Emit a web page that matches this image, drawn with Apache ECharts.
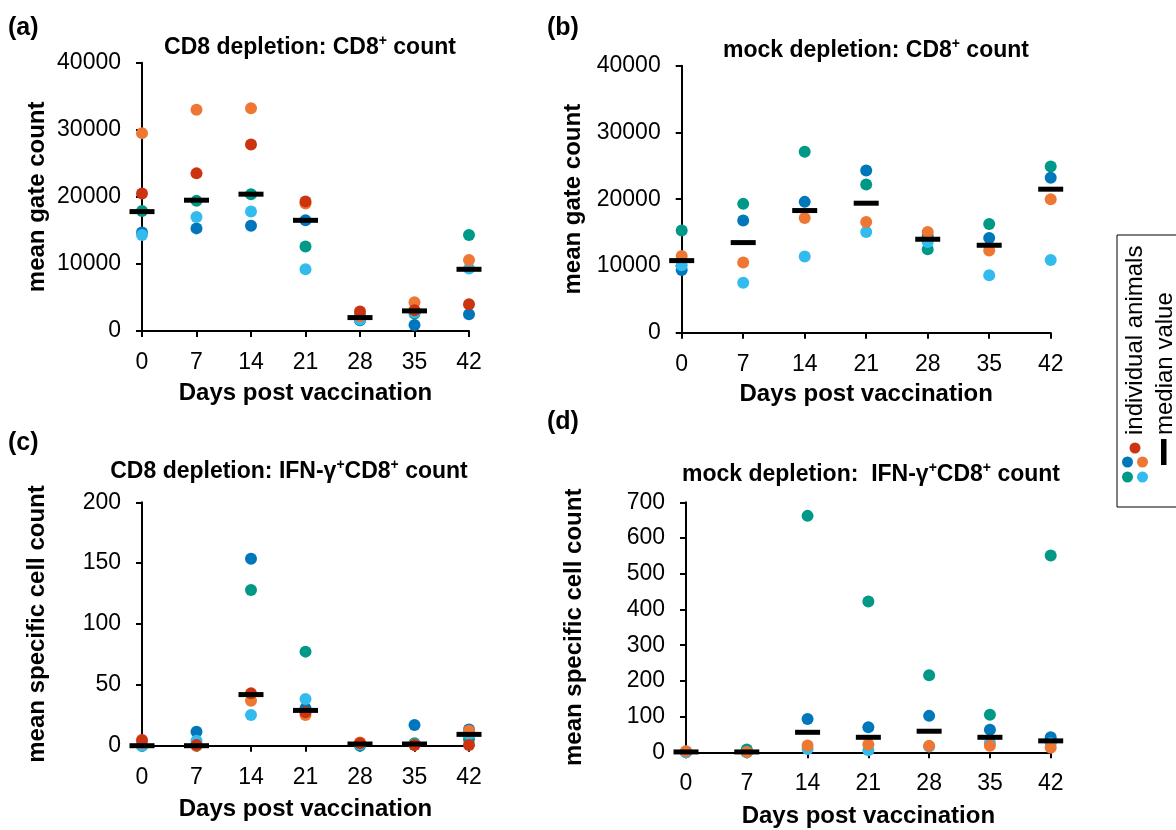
<!DOCTYPE html>
<html>
<head>
<meta charset="utf-8">
<script src="https://cdn.jsdelivr.net/npm/echarts@6/dist/echarts.min.js"></script>
<style>
html,body{margin:0;padding:0;background:#fff;}
#c{width:1176px;height:830px;}
</style>
</head>
<body>
<div id="c"></div>
<script>
// ---------- data ----------
var days = [0, 7, 14, 21, 28, 35, 42];
var dayTicks = ['0', '7', '14', '21', '28', '35', '42'];

// (a) CD8 depletion: CD8+ count
var aRed       = [20500, 23500, 27800, 19300, 2900, 3100, 4000];
var aOrange    = [29500, 33000, 33200, 19000, 2200, 4300, 10600];
var aTeal      = [17900, 19400, 20400, 12600, 2300, 2600, 14300];
var aBlue      = [14700, 15300, 15700, 16500, 1600, 900, 2500];
var aLightBlue = [14300, 17000, 17800, 9200, 1700, 2800, 9300];
var aMedian    = [17800, 19500, 20400, 16500, 2000, 3000, 9200];

// (b) mock depletion: CD8+ count
var bTeal      = [15300, 19300, 27100, 22200, 12500, 16300, 24900];
var bOrange    = [11500, 10500, 17200, 16600, 15100, 12300, 20000];
var bBlue      = [9400, 16800, 19600, 24300, 14500, 14200, 23200];
var bLightBlue = [10100, 7500, 11400, 15100, 13600, 8600, 10900];
var bMedian    = [10800, 13500, 18300, 19400, 14000, 13100, 21500];

// (c) CD8 depletion: IFN-g+CD8+ count
var cRed       = [4.7, 0.5, 43, 27.4, 2, 0.5, 0.5];
var cOrange    = [2, 0, 37, 25.2, 2.7, 0.5, 12.3];
var cTeal      = [0, 0, 128, 77.3, 0, 2, 5.2];
var cBlue      = [0, 11.5, 153.7, 30.7, 0.5, 17, 13.4];
var cLightBlue = [0, 4, 25.2, 38.4, 1, 1, 9.3];
var cMedian    = [0, 0, 42, 29, 1.4, 1.4, 9.3];

// (d) mock depletion: IFN-g+CD8+ count
var dTeal      = [2, 8, 662, 422, 216, 105, 551];
var dBlue      = [0, 0, 93, 70, 102, 63, 42];
var dLightBlue = [0, 0, 9, 6, 16, 27, 25];
var dOrange    = [3, 1, 19, 22, 18, 18, 13];
var dMedian    = [1, 1, 56, 42, 59, 42, 32];

var yTicksA = [0, 10000, 20000, 30000, 40000];
var yTicksC = [0, 50, 100, 150, 200];
var yTicksD = [0, 100, 200, 300, 400, 500, 600, 700];

// ---------- styling ----------
var FONT = '"Liberation Sans", Arial, sans-serif';
var COL = {red: '#CC3311', orange: '#EE7733', teal: '#009988', blue: '#0077BB', lightblue: '#33BBEE'};

function pts(arr) { return days.map(function (d, i) { return [d, arr[i]]; }); }

var grids = [
  {left: 142, top: 62.7, width: 327, height: 268.3},
  {left: 681.7, top: 65.7, width: 369, height: 267},
  {left: 142, top: 502.3, width: 327, height: 243.4},
  {left: 686, top: 502.3, width: 364.7, height: 250}
];

function xAxis(i, gap) {
  return {
    gridIndex: i, type: 'value', min: 0, max: 42, interval: 7,
    name: 'Days post vaccination', nameLocation: 'middle', nameGap: gap,
    nameTextStyle: {fontFamily: FONT, fontSize: 24, fontWeight: 'bold', color: '#000'},
    axisLine: {show: true, onZero: false, lineStyle: {color: '#000', width: 2}},
    axisTick: {show: true, inside: false, length: 6, lineStyle: {color: '#000', width: 2}},
    axisLabel: {margin: 20, fontFamily: FONT, fontSize: 23, color: '#000',
      formatter: function (v) { return dayTicks[days.indexOf(v)]; }},
    splitLine: {show: false}
  };
}
function yAxis(i, ticks, name, gap) {
  return {
    gridIndex: i, type: 'value', min: ticks[0], max: ticks[ticks.length - 1],
    interval: ticks[1] - ticks[0],
    name: name, nameLocation: 'middle', nameRotate: 90, nameGap: gap,
    nameTextStyle: {fontFamily: FONT, fontSize: 24, fontWeight: 'bold', color: '#000'},
    axisLine: {show: true, onZero: false, lineStyle: {color: '#000', width: 2}},
    axisTick: {show: true, inside: false, length: 6, lineStyle: {color: '#000', width: 2}},
    axisLabel: {margin: 21, fontFamily: FONT, fontSize: 23, color: '#000',
      formatter: function (v) { return String(v); }},
    splitLine: {show: false}
  };
}

function dotSeries(i, arr, color) {
  return {type: 'scatter', xAxisIndex: i, yAxisIndex: i, data: pts(arr),
    symbol: 'circle', symbolSize: 12, itemStyle: {color: color, opacity: 1},
    emphasis: {disabled: true}, z: 2, silent: true};
}
function medianSeries(i, arr) {
  return {type: 'scatter', xAxisIndex: i, yAxisIndex: i, data: pts(arr),
    symbol: 'rect', symbolSize: [25, 5], itemStyle: {color: '#000', opacity: 1},
    emphasis: {disabled: true}, z: 3, silent: true};
}

var series = [
  dotSeries(0, aTeal, COL.teal), dotSeries(0, aBlue, COL.blue), dotSeries(0, aLightBlue, COL.lightblue),
  dotSeries(0, aOrange, COL.orange), dotSeries(0, aRed, COL.red), medianSeries(0, aMedian),
  dotSeries(1, bTeal, COL.teal), dotSeries(1, bBlue, COL.blue), dotSeries(1, bLightBlue, COL.lightblue),
  dotSeries(1, bOrange, COL.orange), medianSeries(1, bMedian),
  dotSeries(2, cTeal, COL.teal), dotSeries(2, cBlue, COL.blue), dotSeries(2, cLightBlue, COL.lightblue),
  dotSeries(2, cOrange, COL.orange), dotSeries(2, cRed, COL.red), medianSeries(2, cMedian),
  dotSeries(3, dTeal, COL.teal), dotSeries(3, dBlue, COL.blue), dotSeries(3, dLightBlue, COL.lightblue),
  dotSeries(3, dOrange, COL.orange), medianSeries(3, dMedian)
];

var rich = {
  b: {fontFamily: FONT, fontSize: 23, fontWeight: 'bold', color: '#000', lineHeight: 28},
  s: {fontFamily: FONT, fontSize: 14, fontWeight: 'bold', color: '#000', verticalAlign: 'top', lineHeight: 14}
};
function titleText(x, y, text) {
  return {type: 'text', x: x, y: y, silent: true,
    style: {text: text, rich: rich, align: 'center', verticalAlign: 'middle'}};
}
function plainText(x, y, text, size, bold, rot, align) {
  return {type: 'text', x: x, y: y, rotation: rot || 0, silent: true,
    style: {text: text, fontFamily: FONT, fontSize: size, fontWeight: bold ? 'bold' : 'normal',
      fill: '#000', align: align || 'left', verticalAlign: 'middle'}};
}

var graphic = [
  plainText(8, 28, '(a)', 25, true),
  plainText(547, 28, '(b)', 25, true),
  plainText(8, 443, '(c)', 25, true),
  plainText(547, 422, '(d)', 25, true),
  titleText(310, 48, '{b|CD8 depletion: CD8}{s|+}{b| count}'),
  titleText(876, 51, '{b|mock depletion: CD8}{s|+}{b| count}'),
  titleText(289, 472, '{b|CD8 depletion: IFN-γ}{s|+}{b|CD8}{s|+}{b| count}'),
  titleText(871, 475, '{b|mock depletion:  IFN-γ}{s|+}{b|CD8}{s|+}{b| count}'),
  // legend box
  {type: 'rect', silent: true, shape: {x: 1117, y: 235, width: 70, height: 272},
    style: {fill: 'none', stroke: '#000', lineWidth: 1}},
  plainText(1135, 435, 'individual animals', 24, false, Math.PI / 2, 'left'),
  plainText(1165, 435, 'median value', 24, false, Math.PI / 2, 'left'),
  {type: 'circle', silent: true, shape: {cx: 1135, cy: 448, r: 5.5}, style: {fill: COL.red}},
  {type: 'circle', silent: true, shape: {cx: 1127.5, cy: 462, r: 5.5}, style: {fill: COL.blue}},
  {type: 'circle', silent: true, shape: {cx: 1142.5, cy: 462, r: 5.5}, style: {fill: COL.orange}},
  {type: 'circle', silent: true, shape: {cx: 1127.5, cy: 477, r: 5.5}, style: {fill: COL.teal}},
  {type: 'circle', silent: true, shape: {cx: 1142.5, cy: 477, r: 5.5}, style: {fill: COL.lightblue}},
  {type: 'rect', silent: true, shape: {x: 1161, y: 439, width: 5.5, height: 26}, style: {fill: '#000'}}
];

var chart = echarts.init(document.getElementById('c'), null, {renderer: 'canvas'});
chart.setOption({
  backgroundColor: '#fff',
  animation: false,
  grid: grids,
  xAxis: [xAxis(0, 50), xAxis(1, 50), xAxis(2, 52), xAxis(3, 52)],
  yAxis: [
    yAxis(0, yTicksA, 'mean gate count', 93),
    yAxis(1, yTicksA, 'mean gate count', 96),
    yAxis(2, yTicksC, 'mean specific cell count', 93),
    yAxis(3, yTicksD, 'mean specific cell count', 100)
  ],
  series: series,
  graphic: graphic
});
</script>
</body>
</html>
